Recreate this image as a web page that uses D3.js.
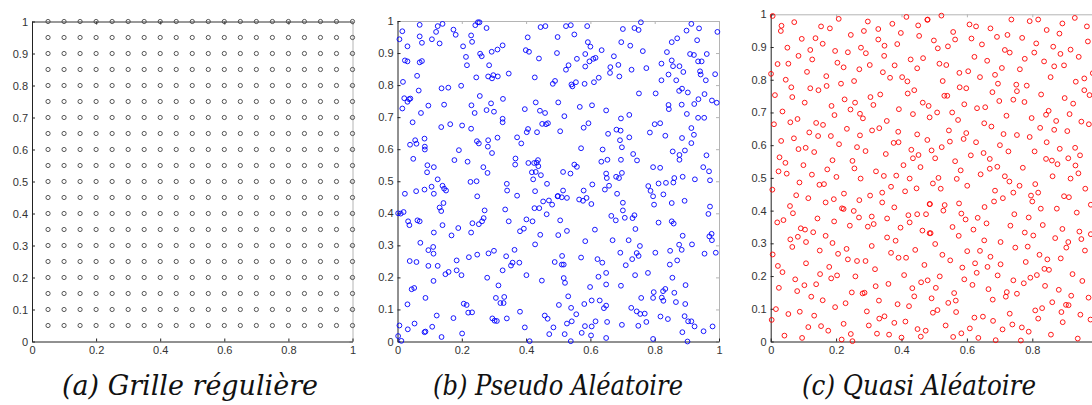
<!DOCTYPE html>
<html>
<head>
<meta charset="utf-8">
<title>Grille, pseudo et quasi aléatoire</title>
<script src="https://cdn.jsdelivr.net/npm/d3@7"></script>
<style>
  body { margin: 0; background: #fff; }
  svg { display: block; }
</style>
</head>
<body>
<svg width="1092" height="405"></svg>
<script>
// tick values and captions
var xTicks = [0, 0.2, 0.4, 0.6, 0.8, 1];
var yTicks = [0, 0.1, 0.2, 0.3, 0.4, 0.5, 0.6, 0.7, 0.8, 0.9, 1];
var captions = ['(a) Grille régulière', '(b) Pseudo Aléatoire', '(c) Quasi Aléatoire'];

// (a) regular grid: same levels on both axes
var gridValues = [0.05, 0.1, 0.15, 0.2, 0.25, 0.3, 0.35, 0.4, 0.45, 0.5,
  0.55, 0.6, 0.65, 0.7, 0.75, 0.8, 0.85, 0.9, 0.95, 1];

// (b) pseudo random points
var pseudoPoints = [
[0.015,0.968],[0.069,0.988],[0.125,0.984],[0.140,0.991],[0.120,0.966],[0.174,0.973],[0.181,0.957],[0.242,0.987],[0.250,0.996],[0.255,0.996],[0.277,0.978],[0.445,0.981],[0.460,0.984],[0.006,0.943],[0.069,0.952],[0.107,0.943],[0.229,0.955],[0.405,0.949],[0.076,0.932],[0.131,0.930],[0.232,0.935],[0.031,0.921],[0.204,0.921],[0.327,0.924],[0.311,0.911],[0.293,0.904],[0.399,0.909],[0.409,0.904],[0.257,0.898],[0.262,0.890],[0.213,0.888],[0.440,0.883],[0.023,0.877],[0.031,0.874],[0.069,0.871],[0.076,0.875],[0.285,0.862],[0.216,0.862],[0.061,0.829],[0.346,0.836],[0.245,0.824],[0.282,0.827],[0.294,0.821],[0.298,0.831],[0.312,0.827],[0.427,0.824],[0.017,0.810],[0.490,0.813],[0.483,0.804],[0.198,0.798],[0.137,0.790],[0.158,0.792],[0.066,0.783],[0.021,0.759],[0.036,0.756],[0.031,0.748],[0.040,0.758],[0.256,0.766],[0.328,0.757],[0.430,0.746],[0.145,0.739],[0.096,0.736],[0.230,0.737],[0.291,0.743],[0.015,0.727],[0.277,0.722],[0.300,0.717],[0.396,0.725],[0.443,0.720],[0.459,0.713],[0.073,0.713],[0.240,0.713],[0.047,0.684],[0.327,0.695],[0.327,0.684],[0.136,0.669],[0.164,0.678],[0.201,0.674],[0.229,0.664],[0.468,0.681],[0.450,0.679],[0.462,0.678],[0.406,0.663],[0.402,0.653],[0.434,0.653],[0.084,0.633],[0.055,0.628],[0.059,0.617],[0.039,0.614],[0.247,0.625],[0.253,0.618],[0.282,0.628],[0.311,0.636],[0.372,0.637],[0.385,0.618],[0.085,0.608],[0.085,0.599],[0.281,0.608],[0.191,0.597],[0.294,0.588],[0.049,0.570],[0.367,0.571],[0.366,0.552],[0.177,0.566],[0.218,0.561],[0.407,0.557],[0.437,0.566],[0.433,0.558],[0.425,0.557],[0.093,0.550],[0.113,0.544],[0.267,0.544],[0.092,0.528],[0.438,0.547],[0.418,0.528],[0.430,0.529],[0.446,0.519],[0.280,0.526],
[0.524,0.984],[0.539,0.987],[0.590,0.984],[0.498,0.950],[0.550,0.958],[0.701,0.975],[0.737,0.978],[0.750,0.972],[0.757,0.996],[0.914,0.991],[0.938,0.977],[0.899,0.970],[0.592,0.934],[0.600,0.920],[0.696,0.934],[0.724,0.923],[0.853,0.934],[0.870,0.946],[0.932,0.940],[0.995,0.966],[0.496,0.900],[0.584,0.897],[0.635,0.909],[0.673,0.890],[0.763,0.906],[0.838,0.903],[0.910,0.897],[0.922,0.894],[0.962,0.897],[0.558,0.882],[0.597,0.874],[0.609,0.882],[0.616,0.885],[0.532,0.862],[0.524,0.848],[0.584,0.858],[0.662,0.856],[0.687,0.863],[0.661,0.838],[0.728,0.848],[0.774,0.853],[0.821,0.867],[0.853,0.877],[0.857,0.859],[0.877,0.859],[0.935,0.874],[0.946,0.874],[0.941,0.843],[0.943,0.833],[0.988,0.834],[0.690,0.827],[0.843,0.833],[0.889,0.841],[0.541,0.802],[0.544,0.796],[0.555,0.809],[0.582,0.804],[0.611,0.809],[0.626,0.823],[0.821,0.815],[0.867,0.815],[0.959,0.815],[0.876,0.782],[0.885,0.789],[0.903,0.777],[0.751,0.774],[0.803,0.774],[0.955,0.772],[0.500,0.746],[0.567,0.732],[0.605,0.737],[0.649,0.721],[0.843,0.738],[0.844,0.725],[0.884,0.739],[0.923,0.741],[0.936,0.756],[0.978,0.752],[0.993,0.745],[0.519,0.703],[0.695,0.696],[0.721,0.707],[0.900,0.710],[0.935,0.698],[0.954,0.698],[0.506,0.656],[0.579,0.667],[0.594,0.681],[0.800,0.678],[0.817,0.681],[0.681,0.661],[0.694,0.658],[0.655,0.648],[0.785,0.652],[0.833,0.642],[0.914,0.666],[0.922,0.645],[0.885,0.635],[0.692,0.628],[0.721,0.637],[0.914,0.619],[0.571,0.603],[0.638,0.599],[0.698,0.606],[0.733,0.585],[0.856,0.593],[0.877,0.582],[0.877,0.567],[0.894,0.596],[0.961,0.581],[0.634,0.561],[0.653,0.567],[0.695,0.567],[0.745,0.565],[0.550,0.552],[0.558,0.545],[0.795,0.544],[0.817,0.542],[0.951,0.544],[0.969,0.531],[0.515,0.529],[0.538,0.524],[0.649,0.524],[0.698,0.526],
[0.125,0.506],[0.227,0.498],[0.246,0.500],[0.340,0.492],[0.341,0.471],[0.422,0.506],[0.465,0.492],[0.023,0.461],[0.058,0.469],[0.084,0.474],[0.106,0.483],[0.113,0.461],[0.140,0.486],[0.145,0.477],[0.151,0.471],[0.248,0.453],[0.372,0.455],[0.428,0.469],[0.499,0.454],[0.453,0.437],[0.471,0.440],[0.481,0.427],[0.143,0.432],[0.131,0.418],[0.136,0.407],[0.002,0.400],[0.010,0.399],[0.019,0.404],[0.271,0.409],[0.335,0.412],[0.426,0.416],[0.441,0.416],[0.464,0.397],[0.033,0.375],[0.037,0.363],[0.062,0.378],[0.069,0.375],[0.140,0.363],[0.189,0.354],[0.233,0.369],[0.253,0.366],[0.263,0.375],[0.268,0.385],[0.346,0.375],[0.401,0.381],[0.420,0.375],[0.393,0.352],[0.381,0.344],[0.113,0.340],[0.168,0.331],[0.229,0.340],[0.444,0.333],[0.071,0.308],[0.111,0.295],[0.112,0.274],[0.096,0.285],[0.428,0.303],[0.364,0.286],[0.222,0.263],[0.248,0.271],[0.283,0.275],[0.300,0.283],[0.338,0.266],[0.184,0.253],[0.038,0.251],[0.059,0.248],[0.096,0.236],[0.125,0.236],[0.358,0.246],[0.353,0.237],[0.379,0.246],[0.489,0.248],[0.149,0.210],[0.159,0.217],[0.184,0.222],[0.199,0.207],[0.327,0.222],[0.112,0.189],[0.279,0.199],[0.401,0.207],[0.449,0.190],[0.044,0.163],[0.052,0.167],[0.314,0.175],[0.087,0.136],[0.031,0.116],[0.206,0.118],[0.215,0.114],[0.306,0.136],[0.320,0.120],[0.330,0.120],[0.332,0.139],[0.381,0.093],[0.220,0.090],[0.232,0.091],[0.122,0.081],[0.174,0.073],[0.295,0.072],[0.302,0.065],[0.309,0.064],[0.340,0.072],[0.458,0.081],[0.467,0.071],[0.006,0.050],[0.032,0.038],[0.053,0.056],[0.084,0.029],[0.087,0.031],[0.108,0.046],[0.201,0.025],[0.396,0.044],[0.485,0.044],[0.472,0.023],[0.002,0.017],[0.012,0.002],[0.137,0.014],[0.411,0.001],
[0.651,0.510],[0.680,0.514],[0.689,0.510],[0.861,0.510],[0.887,0.514],[0.925,0.506],[0.972,0.503],[0.606,0.490],[0.658,0.486],[0.645,0.474],[0.515,0.471],[0.579,0.471],[0.498,0.453],[0.511,0.450],[0.527,0.448],[0.565,0.443],[0.577,0.439],[0.588,0.448],[0.603,0.429],[0.683,0.461],[0.780,0.485],[0.787,0.470],[0.795,0.453],[0.812,0.493],[0.835,0.495],[0.827,0.459],[0.858,0.496],[0.893,0.439],[0.798,0.427],[0.853,0.432],[0.972,0.421],[0.967,0.398],[0.701,0.433],[0.701,0.409],[0.665,0.392],[0.679,0.378],[0.707,0.386],[0.731,0.385],[0.737,0.394],[0.506,0.378],[0.812,0.371],[0.853,0.375],[0.859,0.368],[0.740,0.351],[0.614,0.349],[0.500,0.332],[0.527,0.345],[0.887,0.330],[0.970,0.328],[0.977,0.336],[0.978,0.316],[0.669,0.316],[0.719,0.316],[0.584,0.313],[0.754,0.298],[0.876,0.302],[0.884,0.286],[0.916,0.303],[0.693,0.277],[0.744,0.276],[0.750,0.267],[0.730,0.257],[0.802,0.277],[0.848,0.283],[0.955,0.274],[0.990,0.277],[0.512,0.267],[0.511,0.240],[0.517,0.240],[0.571,0.262],[0.622,0.257],[0.637,0.246],[0.710,0.238],[0.847,0.240],[0.870,0.253],[0.517,0.198],[0.521,0.183],[0.625,0.202],[0.649,0.214],[0.739,0.207],[0.779,0.214],[0.855,0.199],[0.649,0.178],[0.599,0.170],[0.695,0.174],[0.896,0.176],[0.797,0.154],[0.826,0.157],[0.833,0.164],[0.795,0.136],[0.822,0.137],[0.827,0.127],[0.861,0.152],[0.758,0.136],[0.531,0.141],[0.502,0.114],[0.540,0.105],[0.581,0.117],[0.604,0.128],[0.629,0.128],[0.649,0.112],[0.642,0.104],[0.727,0.105],[0.744,0.094],[0.755,0.086],[0.769,0.087],[0.866,0.123],[0.895,0.117],[0.556,0.085],[0.542,0.063],[0.527,0.056],[0.616,0.063],[0.652,0.061],[0.774,0.061],[0.818,0.078],[0.841,0.070],[0.893,0.079],[0.904,0.063],[0.914,0.063],[0.980,0.047],[0.952,0.032],[0.924,0.047],[0.698,0.052],[0.749,0.049],[0.604,0.047],[0.583,0.048],[0.573,0.027],[0.520,0.023],[0.886,0.029],[0.602,0.019],[0.539,0.001],[0.649,0.011],[0.795,0.008],[0.902,0.000]
];

// (c) quasi random points
var quasiPoints = [
[0.006,0.995],[0.072,0.976],[0.033,0.965],[0.031,0.949],[0.154,0.963],[0.181,0.957],[0.208,0.986],[0.297,0.978],[0.285,0.949],[0.329,0.955],[0.372,0.971],[0.415,0.992],[0.451,0.966],[0.479,0.983],[0.398,0.943],[0.454,0.934],[0.095,0.925],[0.137,0.927],[0.245,0.937],[0.329,0.923],[0.159,0.910],[0.051,0.898],[0.121,0.891],[0.197,0.888],[0.276,0.898],[0.291,0.881],[0.348,0.904],[0.387,0.909],[0.236,0.884],[0.085,0.873],[0.127,0.862],[0.204,0.852],[0.223,0.838],[0.303,0.845],[0.347,0.873],[0.379,0.844],[0.428,0.862],[0.466,0.866],[0.448,0.835],[0.021,0.848],[0.054,0.849],[0.271,0.832],[0.111,0.824],[0.001,0.818],[0.343,0.823],[0.365,0.806],[0.402,0.808],[0.170,0.811],[0.418,0.795],[0.046,0.800],[0.063,0.777],[0.215,0.788],[0.255,0.796],[0.171,0.781],[0.121,0.774],[0.146,0.768],[0.439,0.768],[0.419,0.758],[0.013,0.753],[0.066,0.747],[0.305,0.747],[0.335,0.755],[0.104,0.730],[0.465,0.730],[0.226,0.740],[0.258,0.730],[0.186,0.720],[0.483,0.720],[0.244,0.709],[0.314,0.723],[0.036,0.703],[0.435,0.695],[0.273,0.696],[0.195,0.692],[0.282,0.682],[0.486,0.685],[0.010,0.664],[0.060,0.670],[0.082,0.680],[0.355,0.674],[0.139,0.668],[0.160,0.662],[0.392,0.710],[0.233,0.650],[0.310,0.645],[0.332,0.652],[0.118,0.639],[0.145,0.628],[0.184,0.628],[0.273,0.630],[0.390,0.641],[0.448,0.633],[0.032,0.613],[0.071,0.621],[0.376,0.607],[0.391,0.609],[0.479,0.616],[0.209,0.603],[0.264,0.594],[0.085,0.588],[0.107,0.592],[0.133,0.579],[0.290,0.582],[0.352,0.573],[0.027,0.563],[0.045,0.546],[0.189,0.554],[0.250,0.552],[0.435,0.560],[0.452,0.570],[0.430,0.586],[0.100,0.539],[0.406,0.539],[0.173,0.526],[0.256,0.529],[0.458,0.533],[0.024,0.520],[0.049,0.513],[0.126,0.510],[0.201,0.503],[0.275,0.498],[0.322,0.520],[0.346,0.506],[0.384,0.507],[0.425,0.498],
[0.480,0.984],[0.522,0.996],[0.608,0.969],[0.628,0.963],[0.558,0.946],[0.672,0.957],[0.736,0.984],[0.792,0.979],[0.818,0.984],[0.892,0.972],[0.930,0.989],[0.967,0.963],[0.499,0.920],[0.564,0.923],[0.614,0.926],[0.692,0.931],[0.724,0.937],[0.769,0.928],[0.844,0.952],[0.883,0.941],[0.511,0.896],[0.542,0.902],[0.646,0.908],[0.812,0.911],[0.864,0.901],[0.970,0.917],[0.623,0.870],[0.662,0.858],[0.716,0.891],[0.731,0.883],[0.777,0.864],[0.806,0.883],[0.886,0.879],[0.917,0.892],[0.942,0.870],[0.516,0.849],[0.537,0.845],[0.836,0.856],[0.867,0.841],[0.897,0.844],[0.707,0.836],[0.762,0.832],[0.577,0.821],[0.604,0.826],[0.640,0.808],[0.686,0.815],[0.856,0.808],[0.526,0.796],[0.959,0.804],[0.933,0.794],[0.578,0.777],[0.598,0.774],[0.695,0.788],[0.751,0.785],[0.783,0.782],[0.753,0.765],[0.827,0.755],[0.678,0.762],[0.959,0.768],[0.975,0.753],[0.531,0.751],[0.540,0.751],[0.899,0.744],[0.592,0.725],[0.631,0.713],[0.656,0.716],[0.699,0.735],[0.742,0.739],[0.776,0.732],[0.925,0.727],[0.509,0.700],[0.555,0.700],[0.573,0.677],[0.721,0.690],[0.798,0.683],[0.842,0.693],[0.850,0.705],[0.914,0.695],[0.873,0.674],[0.950,0.672],[0.973,0.664],[0.653,0.667],[0.675,0.657],[0.545,0.645],[0.598,0.637],[0.712,0.634],[0.753,0.631],[0.792,0.625],[0.824,0.653],[0.867,0.647],[0.907,0.643],[0.548,0.611],[0.590,0.619],[0.628,0.609],[0.701,0.600],[0.844,0.609],[0.523,0.594],[0.492,0.584],[0.612,0.569],[0.651,0.576],[0.727,0.581],[0.807,0.581],[0.884,0.589],[0.931,0.592],[0.503,0.560],[0.564,0.551],[0.670,0.558],[0.842,0.558],[0.860,0.553],[0.877,0.542],[0.910,0.560],[0.946,0.569],[0.932,0.538],[0.581,0.523],[0.670,0.528],[0.693,0.534],[0.771,0.531],[0.941,0.514],[0.513,0.500],[0.569,0.497],[0.642,0.511],[0.716,0.505],[0.862,0.505],[0.917,0.498],[0.985,0.820],
[0.088,0.486],[0.149,0.479],[0.163,0.481],[0.005,0.464],[0.078,0.447],[0.115,0.438],[0.168,0.425],[0.193,0.435],[0.224,0.452],[0.271,0.432],[0.304,0.446],[0.341,0.455],[0.341,0.425],[0.368,0.473],[0.411,0.459],[0.446,0.468],[0.486,0.420],[0.059,0.414],[0.068,0.392],[0.020,0.364],[0.039,0.371],[0.092,0.346],[0.105,0.342],[0.060,0.312],[0.083,0.320],[0.066,0.289],[0.108,0.304],[0.130,0.334],[0.143,0.376],[0.168,0.323],[0.189,0.301],[0.194,0.367],[0.218,0.407],[0.223,0.405],[0.242,0.354],[0.254,0.399],[0.270,0.379],[0.297,0.351],[0.309,0.382],[0.315,0.359],[0.356,0.376],[0.378,0.410],[0.397,0.348],[0.421,0.386],[0.448,0.389],[0.425,0.364],[0.464,0.339],[0.486,0.331],[0.356,0.318],[0.382,0.308],[0.006,0.266],[0.022,0.231],[0.036,0.212],[0.025,0.164],[0.150,0.278],[0.206,0.268],[0.232,0.283],[0.236,0.251],[0.264,0.246],[0.290,0.246],[0.309,0.292],[0.319,0.221],[0.368,0.271],[0.391,0.256],[0.414,0.256],[0.442,0.280],[0.470,0.234],[0.179,0.228],[0.203,0.202],[0.259,0.199],[0.108,0.239],[0.151,0.206],[0.185,0.193],[0.075,0.190],[0.103,0.172],[0.139,0.175],[0.081,0.154],[0.124,0.137],[0.159,0.126],[0.248,0.150],[0.281,0.147],[0.287,0.149],[0.229,0.117],[0.321,0.169],[0.360,0.176],[0.408,0.203],[0.433,0.163],[0.460,0.181],[0.480,0.187],[0.439,0.138],[0.423,0.108],[0.331,0.125],[0.388,0.114],[0.016,0.099],[0.054,0.084],[0.089,0.091],[0.133,0.079],[0.197,0.105],[0.294,0.092],[0.332,0.070],[0.348,0.077],[0.003,0.066],[0.115,0.044],[0.154,0.047],[0.176,0.033],[0.223,0.054],[0.300,0.049],[0.378,0.057],[0.412,0.061],[0.449,0.038],[0.474,0.033],[0.459,0.015],[0.042,0.018],[0.096,0.011],[0.217,0.006],[0.245,0.023],[0.250,0.001],[0.325,0.024],[0.362,0.021],[0.400,0.012],
[0.496,0.483],[0.520,0.467],[0.601,0.476],[0.730,0.489],[0.761,0.476],[0.742,0.455],[0.686,0.461],[0.710,0.438],[0.683,0.428],[0.809,0.481],[0.818,0.455],[0.796,0.446],[0.800,0.428],[0.962,0.467],[0.897,0.444],[0.912,0.441],[0.979,0.418],[0.487,0.420],[0.532,0.417],[0.576,0.422],[0.528,0.400],[0.475,0.389],[0.583,0.391],[0.596,0.373],[0.654,0.411],[0.633,0.378],[0.660,0.361],[0.745,0.389],[0.789,0.379],[0.826,0.406],[0.875,0.406],[0.936,0.394],[0.556,0.350],[0.620,0.342],[0.733,0.354],[0.832,0.356],[0.892,0.344],[0.944,0.336],[0.489,0.331],[0.575,0.323],[0.777,0.333],[0.803,0.324],[0.870,0.316],[0.910,0.304],[0.950,0.313],[0.979,0.328],[0.503,0.298],[0.653,0.309],[0.703,0.304],[0.748,0.287],[0.786,0.290],[0.904,0.287],[0.961,0.278],[0.525,0.265],[0.549,0.248],[0.601,0.276],[0.640,0.277],[0.672,0.259],[0.822,0.265],[0.846,0.251],[0.887,0.254],[0.586,0.226],[0.625,0.239],[0.663,0.228],[0.703,0.236],[0.780,0.243],[0.837,0.222],[0.851,0.219],[0.814,0.203],[0.794,0.195],[0.923,0.206],[0.953,0.185],[0.517,0.199],[0.592,0.190],[0.630,0.210],[0.694,0.202],[0.742,0.187],[0.774,0.178],[0.617,0.173],[0.505,0.164],[0.666,0.160],[0.722,0.151],[0.719,0.137],[0.753,0.146],[0.839,0.170],[0.881,0.158],[0.919,0.140],[0.972,0.134],[0.561,0.148],[0.566,0.125],[0.543,0.118],[0.492,0.132],[0.679,0.128],[0.861,0.120],[0.903,0.112],[0.911,0.111],[0.947,0.082],[0.510,0.096],[0.496,0.088],[0.567,0.090],[0.731,0.085],[0.809,0.095],[0.830,0.102],[0.889,0.090],[0.978,0.067],[0.623,0.073],[0.649,0.076],[0.680,0.063],[0.818,0.070],[0.893,0.059],[0.535,0.049],[0.583,0.025],[0.609,0.040],[0.709,0.037],[0.739,0.052],[0.768,0.043],[0.789,0.030],[0.857,0.021],[0.558,0.014],[0.635,0.011],[0.688,0.004],[0.765,0.003],[0.939,0.009]
];

var gridPoints = d3.cross(gridValues, gridValues);

var svg = d3.select('svg');

// panel boxes in page pixels
var panels = [
  { left: 32, top: 21.5, w: 320.5, h: 320, color: '#444', r: 2.1, topLine: '#333', points: gridPoints, capX: 190, capW: 256 },
  { left: 397.5, top: 21, w: 321.5, h: 320.5, color: '#0000ff', r: 2.4, topLine: '#b4b4b4', points: pseudoPoints, capX: 558, capW: 250 },
  { left: 770.7, top: 14.3, w: 327, h: 327.2, color: '#ff0000', r: 2.4, topLine: '#b4b4b4', points: quasiPoints, capX: 919, capW: 234 }
];

var fmt = d3.format('~g');

function styleLabels(a) {
  a.attr('font-family', '"Liberation Sans", Arial, sans-serif').attr('font-size', 11);
  a.selectAll('text').attr('fill', '#333');
}

panels.forEach(function(p, i) {
  var x = d3.scaleLinear().domain([0, 1]).range([0, p.w]);
  var y = d3.scaleLinear().domain([0, 1]).range([p.h, 0]);

  var g = svg.append('g')
    .attr('transform', 'translate(' + p.left + ',' + p.top + ')');

  // mirrored box on top and right, no labels
  g.append('g')
    .call(d3.axisTop(x).tickValues(xTicks).tickSizeInner(-3).tickSizeOuter(0).tickFormat(''))
    .call(function(a) { a.selectAll('path, line').attr('stroke', p.topLine); });
  g.append('g')
    .attr('transform', 'translate(' + p.w + ',0)')
    .call(d3.axisRight(y).tickValues(yTicks).tickSizeInner(-3).tickSizeOuter(0).tickFormat(''))
    .call(function(a) { a.selectAll('path, line').attr('stroke', '#b4b4b4'); });

  g.append('g')
    .attr('transform', 'translate(0,' + p.h + ')')
    .call(d3.axisBottom(x).tickValues(xTicks).tickSizeInner(-3).tickSizeOuter(0).tickPadding(5).tickFormat(fmt))
    .call(styleLabels)
    .call(function(a) { a.selectAll('path, line').attr('stroke', '#222'); });

  g.append('g')
    .call(d3.axisLeft(y).tickValues(yTicks).tickSizeInner(-3).tickSizeOuter(0).tickPadding(4).tickFormat(fmt))
    .call(styleLabels)
    .call(function(a) { a.selectAll('path, line').attr('stroke', '#222'); });

  g.selectAll('circle')
    .data(p.points)
    .enter()
    .append('circle')
    .attr('cx', function(d) { return x(d[0]); })
    .attr('cy', function(d) { return y(d[1]); })
    .attr('r', p.r)
    .attr('fill', 'none')
    .attr('stroke', p.color)
    .attr('stroke-width', 0.9);

  svg.append('text')
    .attr('x', p.capX)
    .attr('y', 395)
    .attr('text-anchor', 'middle')
    .attr('font-family', '"DejaVu Serif", serif')
    .attr('font-style', 'italic')
    .attr('font-size', 27)
    .attr('textLength', p.capW)
    .attr('lengthAdjust', 'spacingAndGlyphs')
    .attr('fill', '#111')
    .text(captions[i]);
});
</script>
</body>
</html>
